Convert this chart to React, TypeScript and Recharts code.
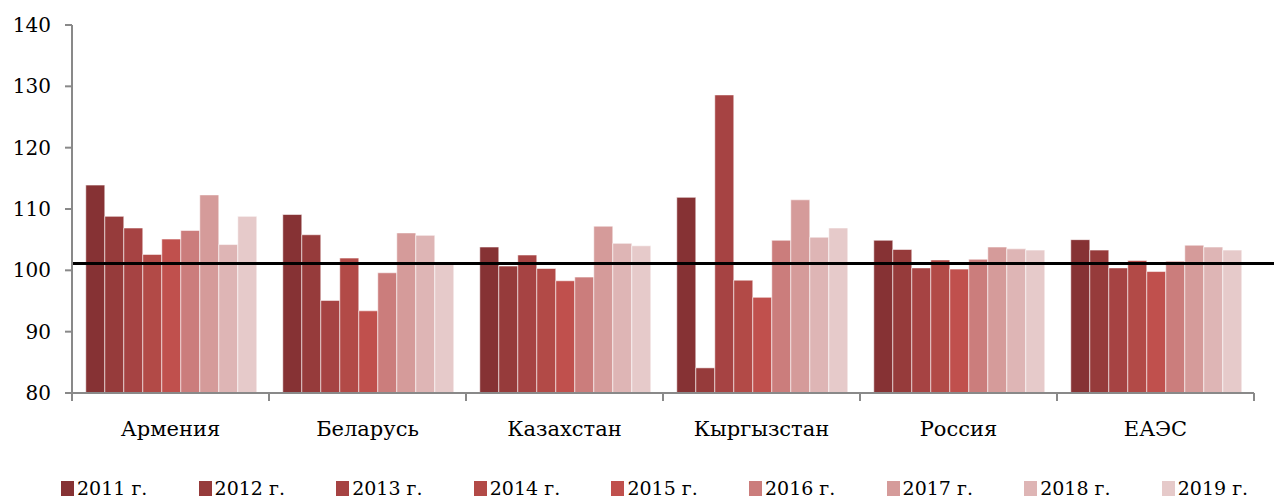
import React from "react";
import {
  BarChart,
  Bar,
  XAxis,
  YAxis,
  ReferenceLine,
  Legend,
} from "recharts";

const countries = ["Армения", "Беларусь", "Казахстан", "Кыргызстан", "Россия", "ЕАЭС"];
const years = ["2011 г.", "2012 г.", "2013 г.", "2014 г.", "2015 г.", "2016 г.", "2017 г.", "2018 г.", "2019 г."];

// values per country, 2011..2019
const armenia = [113.9, 108.8, 106.9, 102.6, 105.1, 106.5, 112.3, 104.2, 108.8];
const belarus = [109.1, 105.8, 95.1, 102.0, 93.4, 99.6, 106.1, 105.7, 101.0];
const kazakhstan = [103.8, 100.7, 102.5, 100.3, 98.3, 98.9, 107.2, 104.4, 104.0];
const kyrgyzstan = [111.9, 84.1, 128.6, 98.4, 95.6, 104.9, 111.5, 105.4, 106.9];
const russia = [104.9, 103.4, 100.4, 101.7, 100.2, 101.8, 103.8, 103.5, 103.3];
const eaeu = [105.0, 103.3, 100.4, 101.6, 99.8, 101.5, 104.1, 103.8, 103.3];

const yTicks = [80, 90, 100, 110, 120, 130, 140];
const refValue = 101.1;

const colors = ["#863234", "#963b3b", "#a64343", "#b24a47", "#c0504d", "#cb7d7c", "#d59b9a", "#deb5b5", "#e6caca"];

const rows = [armenia, belarus, kazakhstan, kyrgyzstan, russia, eaeu];
const data = countries.map((name, i) => {
  const row: Record<string, number | string> = { name };
  years.forEach((y, j) => {
    row[y] = rows[i][j];
  });
  return row;
});

const W = 1274;
const H = 500;
const M = { top: 25, right: 20, left: 0, bottom: 0 };
const Y_W = 72;
const STEP = (W - M.left - M.right - Y_W) / countries.length;
const FONT = "DejaVu Serif";
const AXIS = "#898989";

const CategoryTick = (props: any) => {
  const { x, y, payload, index } = props;
  const left = x - STEP / 2;
  return (
    <g>
      <line x1={left} y1={y} x2={left} y2={y + 8} stroke={AXIS} strokeWidth={2} />
      {index === countries.length - 1 && (
        <line x1={x + STEP / 2} y1={y} x2={x + STEP / 2} y2={y + 8} stroke={AXIS} strokeWidth={2} />
      )}
      <text x={x} y={y + 43} textAnchor="middle" fontSize={21} style={{ fontFamily: FONT }} fill="#000">
        {payload.value}
      </text>
    </g>
  );
};

const LongLine = (props: any) => {
  const { x1, y1, x2 } = props;
  return <line x1={x1} y1={y1} x2={x2 + M.right} y2={y1} stroke="#000" strokeWidth={3} />;
};

const renderLegend = () => (
  <div style={{ display: "flex", height: 24, paddingLeft: 61, fontFamily: FONT, fontSize: 19, lineHeight: "24px", whiteSpace: "nowrap" }}>
    {years.map((y, i) => (
      <div key={y} style={{ width: 137.6, flexShrink: 0, display: "flex", alignItems: "center" }}>
        <span style={{ width: 13, height: 15, background: colors[i], marginRight: 3, display: "inline-block" }} />
        <span>{y}</span>
      </div>
    ))}
  </div>
);

export default function App() {
  return (
    <div style={{ position: "absolute", left: 0, top: 0, background: "#fff", fontFamily: FONT }}>
      <BarChart width={W} height={H} data={data} margin={M} barCategoryGap="7%" barGap={0} style={{ fontFamily: FONT }}>
        <XAxis
          dataKey="name"
          height={83}
          stroke={AXIS}
          strokeWidth={2}
          tickLine={false}
          tickSize={0}
          tickMargin={0}
          tick={<CategoryTick />}
          interval={0}
        />
        <YAxis
          width={Y_W}
          domain={[80, 140]}
          ticks={yTicks}
          allowDataOverflow
          stroke={AXIS}
          strokeWidth={2}
          tickSize={7}
          tickMargin={14}
          tickLine={{ stroke: AXIS, strokeWidth: 2 }}
          tick={{ fill: "#000", fontSize: 20, style: { fontFamily: FONT } }}
        />
        <Legend verticalAlign="bottom" content={renderLegend} />
        {years.map((y, i) => (
          <Bar
            key={y}
            dataKey={y}
            fill={colors[i]}
            stroke="rgba(255,255,255,0.55)"
            strokeWidth={1}
            isAnimationActive={false}
          />
        ))}
        <ReferenceLine y={refValue} ifOverflow="visible" shape={<LongLine />} />
      </BarChart>
    </div>
  );
}
